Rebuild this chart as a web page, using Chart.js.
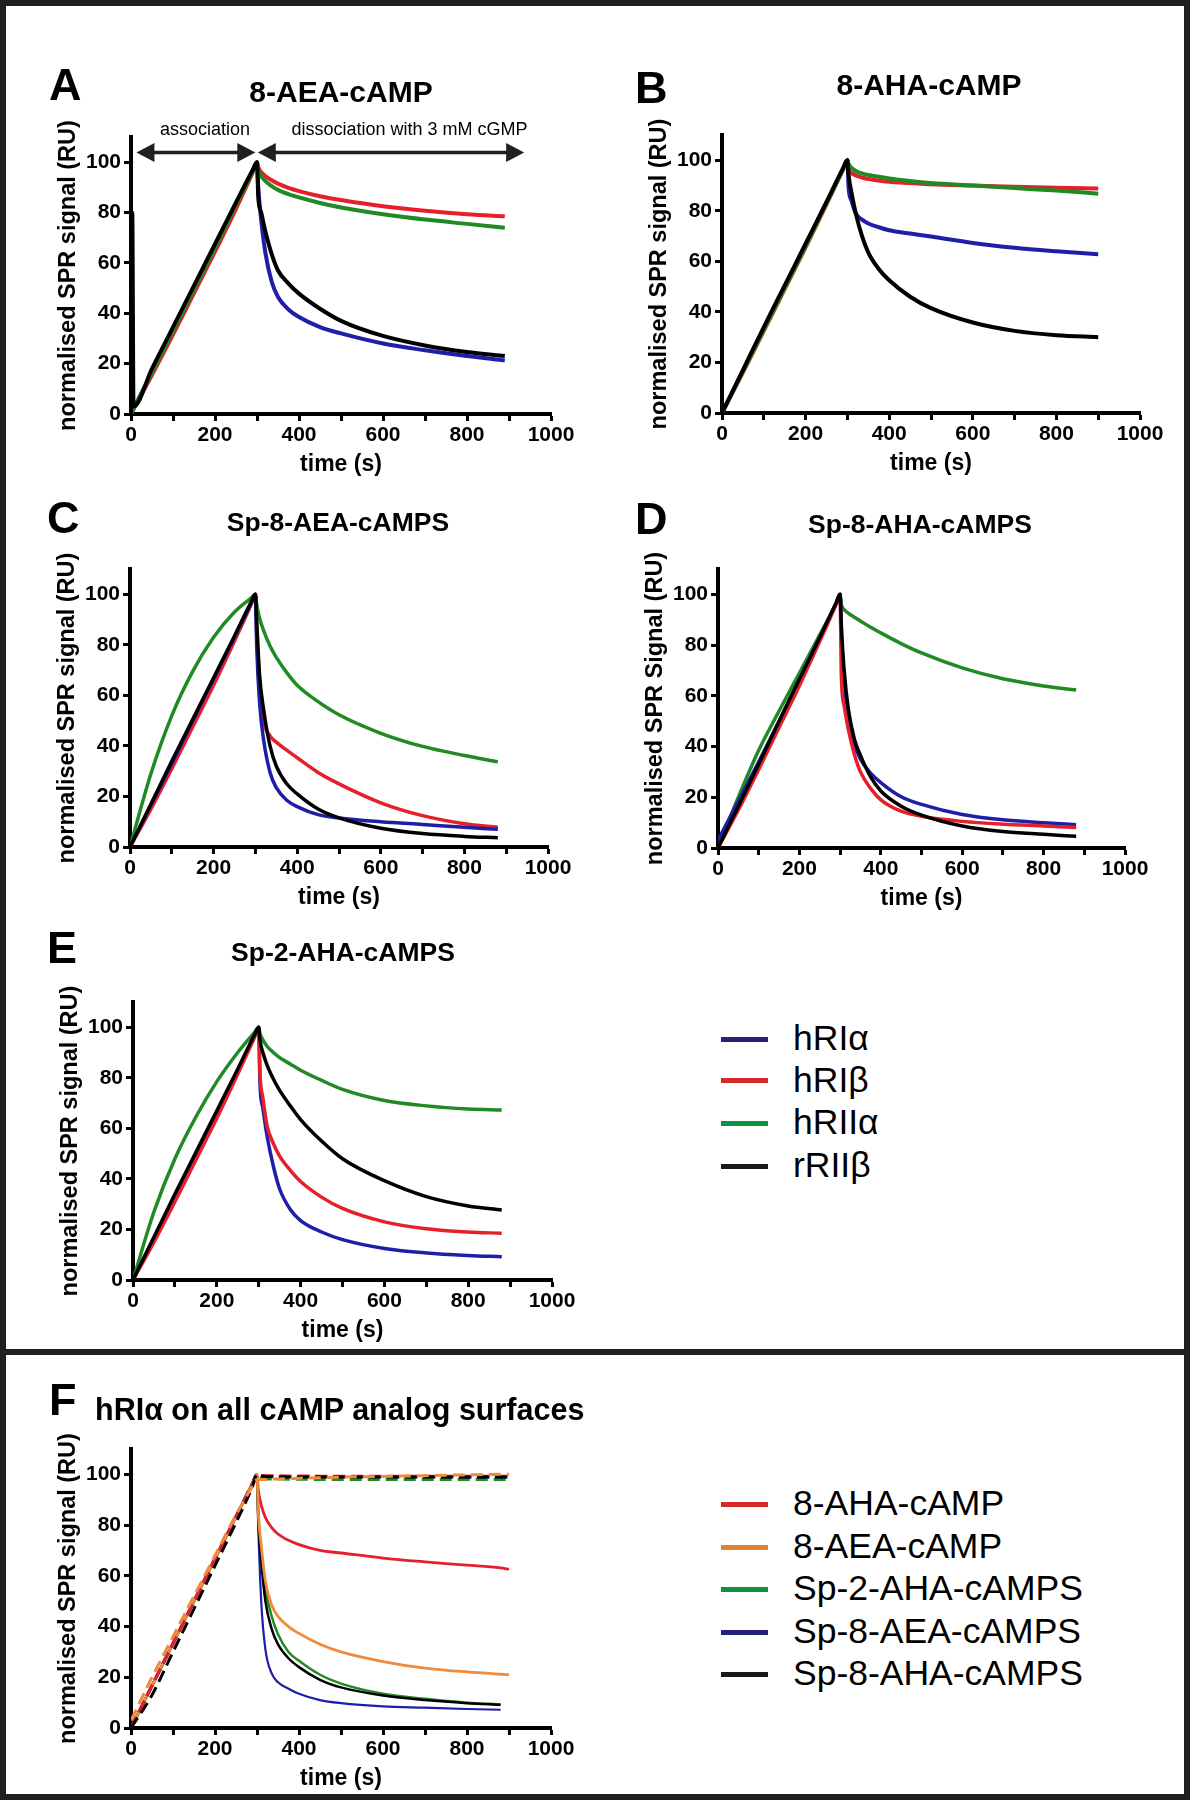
<!DOCTYPE html>
<html>
<head>
<meta charset="utf-8">
<script src="https://cdn.jsdelivr.net/npm/chart.js@4.4.0/dist/chart.umd.min.js"></script>
<style>
  html, body { margin: 0; padding: 0; background: #fff; }
  body { width: 1200px; height: 1810px; position: relative; overflow: hidden;
         font-family: "Liberation Sans", Arial, sans-serif; color: #000; }
  .frame { position: absolute; box-sizing: border-box; border: 6px solid #231f20; }
  canvas { position: absolute; }
  .txt { position: absolute; line-height: 1; white-space: nowrap; }
  .row { position: absolute; display: flex; align-items: center; height: 36px; }
  .row .sw { width: 47px; height: 5px; margin-right: 25px; }
  .row span { font-size: 35.5px; line-height: 1; }
</style>
</head>
<body>
<div class="frame" style="left:0;top:0;width:1190px;height:1355px"></div>
<div class="frame" style="left:0;top:1349px;width:1190px;height:451px"></div>
<script>
// ---- data (normalised RU) ----
const timeA = [0, 3, 6, 50, 100, 150, 200, 250, 290, 300, 303, 310, 320, 335, 350, 375, 400, 450, 500, 600, 700, 800, 890];
const blueA  = [0, 1, 2, 16.7, 33.3, 50, 66.7, 83.3, 96.7, 100, 90, 77, 64, 52.5, 46.5, 41.5, 38.5, 34.5, 32, 28, 25.3, 23, 21.3];
const redA   = [0, 1, 2, 15.5, 31.5, 48, 64.5, 81.5, 96, 100, 98, 96, 94.5, 92.8, 91.5, 89.8, 88.5, 86.5, 85, 82.5, 80.7, 79.3, 78.5];
const greenA = [0, 1, 2, 16.5, 33, 49.5, 66, 83, 96.5, 100, 97, 94.5, 92.5, 90.5, 89, 87.3, 86, 83.8, 82, 79.3, 77.2, 75.5, 74];
const blackA = [0, 80, 3, 18, 34.5, 51, 67.5, 84, 97, 100, 86, 80, 72.5, 63.5, 57, 51.8, 47.8, 41.8, 37, 31, 27.2, 24.6, 23];

const timeB = [0, 50, 100, 150, 200, 250, 290, 300, 303, 310, 320, 335, 350, 375, 400, 450, 500, 600, 700, 800, 900];
const blueB  = [0, 16.7, 33.3, 50, 66.7, 83.3, 96.7, 100, 89, 84, 79, 76.5, 75, 73.5, 72.3, 71, 69.8, 67.3, 65.4, 64, 62.8];
const redB   = [0, 16, 32.5, 49, 65.5, 82.5, 96.5, 100, 96.5, 95, 94, 93.2, 92.6, 92, 91.5, 91, 90.5, 90, 89.5, 89.1, 88.8];
const greenB = [0, 16.5, 33, 49.5, 66, 83, 96.5, 100, 98.5, 97, 95.8, 94.8, 94.2, 93.5, 92.8, 91.8, 91, 90, 89, 88, 86.8];
const blackB = [0, 17, 34, 50.5, 67, 83.5, 97, 100, 94, 87, 79, 70, 63.5, 57, 52.5, 46, 41.5, 35.8, 32.5, 30.8, 30];

const timeCDE = [0, 50, 100, 150, 200, 250, 290, 300, 303, 310, 320, 335, 350, 375, 400, 450, 500, 600, 700, 800, 880];
const blueC  = [0, 16.5, 33, 50, 66.5, 83, 96.5, 100, 80, 57, 42, 29.5, 23.5, 18.5, 16, 12.8, 11.5, 10, 8.9, 7.8, 7];
const redC   = [0, 15, 31, 47.5, 64, 81.5, 96, 100, 85, 66, 50, 44, 41.5, 38.3, 35.3, 29.5, 25, 17.5, 12.4, 9.2, 7.8];
const greenC = [0, 29, 52, 69.5, 83, 93, 98.6, 100, 96, 90.5, 85.5, 79.5, 75, 69, 64, 57.5, 52.3, 45, 39.8, 36.2, 33.7];
const blackC = [0, 17, 34, 50.5, 67, 83.5, 97, 100, 90, 68, 54, 40, 32, 25, 21, 15, 11.5, 7.4, 5.3, 4.2, 3.7];

const blueD  = [3, 18.5, 34, 50, 66.5, 83, 96.5, 100, 85, 66, 52, 41, 35, 29.5, 25.8, 20.2, 17.2, 13.2, 11.1, 10, 9.2];
const redD   = [0, 15, 31, 47.5, 64, 81.5, 96, 100, 68, 56, 47, 37, 30, 23.5, 19, 14.5, 12.5, 10.5, 9.4, 8.7, 8.1];
const greenD = [0, 20, 38.5, 54, 69, 84, 96.3, 100, 96, 94, 92.6, 91, 89.5, 87, 84.8, 80.6, 76.9, 71, 66.7, 63.9, 62.3];
const blackD = [0, 16.5, 33, 50, 66.5, 83, 96.5, 100, 88, 70, 55, 43, 36.5, 28, 22.5, 16.5, 13, 8.7, 6.5, 5.4, 4.6];

const blueE  = [0, 16.5, 33, 49.5, 66, 83, 96.5, 100, 78, 68, 57, 45, 36, 28, 23.5, 19, 16, 12.5, 10.7, 9.7, 9.2];
const redE   = [0, 15, 31, 47.5, 64, 81.5, 96, 100, 82, 72, 61, 54, 49, 43.5, 39, 32.8, 28.3, 23, 20.3, 19, 18.5];
const greenE = [0, 27, 48, 64.5, 78.5, 90, 98, 100, 97.5, 95, 92.5, 90, 88, 85.5, 83, 79, 75.4, 71, 68.9, 67.7, 67.3];
const blackE = [0, 17, 34, 50.5, 67, 83.5, 97, 100, 95, 90, 85, 79.5, 75, 69, 63.5, 55, 48, 39.3, 33, 29.3, 27.7];

// panel F: hRIα on every surface (solid) and reference runs (dashed)
const timeF = [0, 50, 100, 150, 200, 250, 290, 300, 303, 310, 320, 335, 350, 375, 400, 450, 500, 600, 700, 800, 880, 900];
const fAha    = [0, 16.7, 33.3, 50, 66.7, 83.3, 96.7, 100, 94, 88, 83, 79, 76.5, 74, 72.3, 70, 69, 67, 65.5, 64.2, 63.1, 62.6];
const fAea    = [0, 16.7, 33.3, 50, 66.7, 83.3, 96.7, 100, 85, 72, 58, 48.5, 44, 40, 37.3, 33, 30, 26.2, 23.6, 22.1, 21.2, 21];
const fSp2Aha = [0, 16.7, 33.3, 50, 66.7, 83.3, 96.7, 100, 85, 70, 55, 44, 37, 30, 26.5, 21, 17.5, 13.5, 11.5, 10, 9.3, null];
const fSp8Aea = [0, 16.7, 33.3, 50, 66.7, 83.3, 96.7, 100, 80, 50, 31, 21.5, 18, 15.5, 13.5, 11, 9.8, 8.5, 8, 7.5, 7.2, null];
const fSp8Aha = [0, 16.7, 33.3, 50, 66.7, 83.3, 96.7, 100, 82, 66, 50, 39, 33, 27.5, 24, 19, 16, 12.8, 11, 9.8, 9.2, null];
const dAha    = [0, 16.7, 33.3, 50, 66.7, 83.3, 96.7, 100, 99.8, 99.6, 99.5, 99.5, 99.4, 99.4, 99.4, 99.3, 99.3, 99.3, 99.3, 99.3, 99.3, 99.3];
const dAea    = [3, 20, 36, 52, 68, 84, 95.5, 98, 98, 98, 98, 98.1, 98.2, 98.3, 98.5, 98.7, 98.9, 99.2, 99.5, 99.8, 100, 100];
const dSp2Aha = [0, 16.7, 33.3, 50, 66.7, 83.3, 96.7, 100, 99, 98.5, 98.3, 98.2, 98.2, 98.1, 98.1, 98, 98, 98, 98, 98, 98, 98];
const dSp8Aea = [0, 16.7, 33.3, 50, 66.7, 83.3, 96.7, 100, 99.7, 99.5, 99.4, 99.3, 99.3, 99.2, 99.2, 99.2, 99.1, 99.1, 99.1, 99, 99, 99];
const dSp8Aha = [0, 13, 30, 47, 64, 81, 95.5, 100, 99.6, 99.3, 99.2, 99.1, 99, 99, 99, 99, 99, 99, 99, 99, 99, 99];

const xTicks = [0, 200, 400, 600, 800, 1000];
const yTicks = [0, 20, 40, 60, 80, 100];

// phase arrows of panel A (data units)
const phaseSpans = [[13, 296], [302, 936]];
const phaseLabels = ['association', 'dissociation with 3 mM cGMP'];
const phaseLabelX = [176, 663];
const phaseArrowLevel = 103.8;
const phaseLabelLevel = 113.4;

const legendSubunits = ['hRIα', 'hRIβ', 'hRIIα', 'rRIIβ'];
const legendSurfaces = ['8-AHA-cAMP', '8-AEA-cAMP', 'Sp-2-AHA-cAMPS', 'Sp-8-AEA-cAMPS', 'Sp-8-AHA-cAMPS'];

// ---- styling ----
const C_BLUE = '#1e1ea8', C_RED = '#e6202a', C_GREEN = '#218a24', C_BLACK = '#000000', C_ORANGE = '#f08a3c';
const FONT = '"Liberation Sans", Arial, sans-serif';
Chart.defaults.font.family = FONT;
Chart.defaults.color = '#000';

function series(times, vals, color, width, dash) {
  return {
    data: times.map((t, i) => ({ x: t, y: vals[i] })).filter(p => p.y !== null),
    borderColor: color, borderWidth: width, borderDash: dash || [],
    pointRadius: 0, fill: false, cubicInterpolationMode: 'monotone'
  };
}

const arrowPlugin = {
  id: 'phaseArrows',
  afterDraw(chart) {
    const { ctx, scales: { x, y } } = chart;
    const yy = y.getPixelForValue(phaseArrowLevel);
    const head = 18, half = 9.5;
    ctx.save();
    ctx.lineWidth = 3.5;
    phaseSpans.forEach((span, i) => {
      const xa = x.getPixelForValue(span[0]), xb = x.getPixelForValue(span[1]);
      ctx.strokeStyle = '#231f20'; ctx.fillStyle = '#231f20';
      ctx.beginPath(); ctx.moveTo(xa + head - 2, yy); ctx.lineTo(xb - head + 2, yy); ctx.stroke();
      ctx.beginPath(); ctx.moveTo(xa, yy); ctx.lineTo(xa + head, yy - half); ctx.lineTo(xa + head, yy + half); ctx.closePath(); ctx.fill();
      ctx.beginPath(); ctx.moveTo(xb, yy); ctx.lineTo(xb - head, yy - half); ctx.lineTo(xb - head, yy + half); ctx.closePath(); ctx.fill();
      ctx.font = '18px ' + FONT; ctx.textAlign = 'center'; ctx.textBaseline = 'alphabetic';
      ctx.fillStyle = '#000';
      ctx.fillText(phaseLabels[i], x.getPixelForValue(phaseLabelX[i]), y.getPixelForValue(phaseLabelLevel) + 0.358 * 18);
    });
    ctx.restore();
  }
};

function makePanel(p) {
  const LW = 100, TP = 40, RP = 40, BH = 70;
  const x0 = Math.round(p.x0), y0 = Math.round(p.y0);
  const w = Math.round(p.x1 - p.x0);
  const h = Math.round((p.y0 - p.y100) / 100 * 110);
  const cv = document.createElement('canvas');
  cv.width = LW + w + RP; cv.height = TP + h + BH;
  cv.style.left = (x0 - LW) + 'px'; cv.style.top = (y0 - h - TP) + 'px';
  cv.style.width = cv.width + 'px'; cv.style.height = cv.height + 'px';
  document.body.appendChild(cv);
  const axisGrid = { drawOnChartArea: false, drawTicks: true, tickLength: 7, tickWidth: 3, tickColor: '#000' };
  const axisBorder = { display: true, color: '#000', width: 4 };
  const tickFont = { size: 21, weight: 'bold' };
  new Chart(cv, {
    type: 'line',
    data: { datasets: p.datasets },
    options: {
      responsive: false, animation: false, devicePixelRatio: 1,
      layout: { padding: { left: 0, top: TP, right: RP, bottom: 0 } },
      plugins: { legend: { display: false }, tooltip: { enabled: false }, title: { display: false } },
      scales: {
        x: {
          type: 'linear', min: 0, max: 1000,
          afterFit: s => { s.height = BH; s.paddingLeft = 0; s.paddingRight = 0; },
          ticks: {
            stepSize: 100, autoSkip: false, maxRotation: 0, padding: 2, color: '#000', font: tickFont,
            callback: v => xTicks.includes(Math.round(v)) ? String(Math.round(v)) : ''
          },
          grid: axisGrid, border: axisBorder,
          title: { display: true, text: 'time (s)', color: '#000', font: { size: 23, weight: 'bold' }, padding: { top: 0, bottom: 6 } }
        },
        y: {
          type: 'linear', min: 0, max: 110,
          afterBuildTicks: s => { s.ticks = s.ticks.filter(t => yTicks.includes(Math.round(t.value))); },
          afterFit: s => { s.width = LW; s.paddingTop = 0; s.paddingBottom = 0; },
          ticks: { stepSize: 20, autoSkip: false, padding: 3, color: '#000', font: tickFont },
          grid: axisGrid, border: axisBorder,
          title: { display: true, text: p.yTitle, color: '#000', font: { size: 23.5, weight: 'bold' }, padding: { top: 23, bottom: 0 } }
        }
      }
    },
    plugins: p.plugins || []
  });
}

function text(str, x, capY, size, weight, center) {
  const d = document.createElement('div');
  d.className = 'txt';
  d.textContent = str;
  d.style.fontSize = size + 'px';
  d.style.fontWeight = weight;
  d.style.top = (capY - 0.4885 * size) + 'px';
  d.style.left = x + 'px';
  if (center) d.style.transform = 'translateX(-50%)';
  document.body.appendChild(d);
}

function legend(labels, colors, rowsY) {
  labels.forEach((lab, i) => {
    const r = document.createElement('div');
    r.className = 'row';
    r.style.left = '721px';
    r.style.top = (rowsY[i] - 18) + 'px';
    r.innerHTML = '<div class="sw" style="background:' + colors[i] + '"></div><span>' + lab + '</span>';
    document.body.appendChild(r);
  });
}

const ySig = 'normalised SPR signal (RU)';
const lw1 = 4, lw2 = 3.5;

makePanel({ x0: 131.3, x1: 551.3, y0: 414.3, y100: 162.3, yTitle: ySig, plugins: [arrowPlugin], datasets: [
  series(timeA, blackA, C_BLACK, lw1), series(timeA, greenA, C_GREEN, lw1),
  series(timeA, redA, C_RED, lw1), series(timeA, blueA, C_BLUE, lw1)] });
makePanel({ x0: 721.7, x1: 1139.6, y0: 412.7, y100: 160, yTitle: ySig, datasets: [
  series(timeB, blackB, C_BLACK, lw1), series(timeB, greenB, C_GREEN, lw1),
  series(timeB, redB, C_RED, lw1), series(timeB, blueB, C_BLUE, lw1)] });
makePanel({ x0: 130.1, x1: 548.5, y0: 846.7, y100: 594.3, yTitle: ySig, datasets: [
  series(timeCDE, blackC, C_BLACK, lw2), series(timeCDE, blueC, C_BLUE, lw2),
  series(timeCDE, redC, C_RED, lw2), series(timeCDE, greenC, C_GREEN, lw2)] });
makePanel({ x0: 717.5, x1: 1124.3, y0: 848.3, y100: 594.3, yTitle: 'normalised SPR Signal (RU)', datasets: [
  series(timeCDE, blackD, C_BLACK, lw2), series(timeCDE, redD, C_RED, lw2),
  series(timeCDE, blueD, C_BLUE, lw2), series(timeCDE, greenD, C_GREEN, lw2)] });
makePanel({ x0: 133.2, x1: 552, y0: 1280, y100: 1027.3, yTitle: ySig, datasets: [
  series(timeCDE, blackE, C_BLACK, lw2), series(timeCDE, redE, C_RED, lw2),
  series(timeCDE, blueE, C_BLUE, lw2), series(timeCDE, greenE, C_GREEN, lw2)] });
makePanel({ x0: 131.3, x1: 551.1, y0: 1728.3, y100: 1474.3, yTitle: ySig, datasets: [
  series(timeF, dAea, C_ORANGE, 3, [12, 6]), series(timeF, dSp8Aha, C_BLACK, 3, [12, 6]),
  series(timeF, dAha, C_RED, 3, [12, 6]), series(timeF, dSp8Aea, C_BLUE, 3, [12, 6]),
  series(timeF, dSp2Aha, C_GREEN, 3, [12, 6]),
  series(timeF, fAea, C_ORANGE, 2.8), series(timeF, fAha, C_RED, 2.8),
  series(timeF, fSp8Aha, C_BLACK, 2.5), series(timeF, fSp2Aha, C_GREEN, 2.5),
  series(timeF, fSp8Aea, C_BLUE, 2.2)] });

// panel letters and titles
text('A', 49, 83.5, 45, 'bold'); text('B', 635, 86.5, 45, 'bold');
text('C', 47, 516.5, 45, 'bold'); text('D', 635, 518, 45, 'bold');
text('E', 47, 946.5, 45, 'bold'); text('F', 49, 1398.5, 45, 'bold');
text('8-AEA-cAMP', 341, 92, 30, 'bold', true);
text('8-AHA-cAMP', 929, 85, 30, 'bold', true);
text('Sp-8-AEA-cAMPS', 338, 522, 26.5, 'bold', true);
text('Sp-8-AHA-cAMPS', 920, 524, 26.5, 'bold', true);
text('Sp-2-AHA-cAMPS', 343, 951.5, 26.5, 'bold', true);
text('hRIα on all cAMP analog surfaces', 95, 1409, 30.5, 'bold');

legend(legendSubunits, ['#23237a', '#d7282e', '#0b9444', '#1a1a1a'], [1039, 1080.5, 1123, 1166]);
legend(legendSurfaces, ['#d42a2a', '#e08232', '#0b9444', '#22227a', '#1a1a1a'], [1504, 1547, 1589, 1632, 1674]);
</script>
</body>
</html>
